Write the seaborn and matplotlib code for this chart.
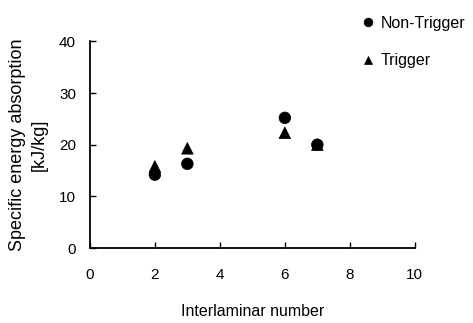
import pandas as pd
import matplotlib
matplotlib.use('Agg')
import matplotlib.pyplot as plt
import seaborn as sns

sns.set_style("ticks")
plt.rcParams['font.family'] = ['Liberation Sans', 'DejaVu Sans']
plt.rcParams['text.color'] = 'black'
plt.rcParams['axes.labelcolor'] = 'black'
plt.rcParams['xtick.color'] = 'black'
plt.rcParams['ytick.color'] = 'black'

interlaminar = [2, 3, 6, 7]
non_trigger = [14.2, 16.3, 25.2, 20.0]
trigger = [15.8, 19.3, 22.3, 20.0]

df = pd.DataFrame({
    'x': interlaminar * 2,
    'y': non_trigger + trigger,
    'type': ['Non-Trigger'] * len(interlaminar) + ['Trigger'] * len(interlaminar),
})

fig = plt.figure(figsize=(4.73, 3.23), dpi=100)
ax = fig.add_axes([0.190, 0.232, 0.687, 0.640])

sns.scatterplot(data=df, x='x', y='y', style='type', hue='type',
                markers={'Non-Trigger': 'o', 'Trigger': '^'},
                palette={'Non-Trigger': 'black', 'Trigger': 'black'},
                s=70, edgecolor='black', linewidth=0.5, ax=ax, legend=True)

ax.set_xlim(0, 10)
ax.set_ylim(0, 40)
ax.set_xticks([0, 2, 4, 6, 8, 10])
ax.set_yticks([0, 10, 20, 30, 40])
ax.tick_params(direction='in', length=4, width=1, labelsize=11, pad=14)
ax.tick_params(axis='y', pad=10)
for side in ['top', 'right']:
    ax.spines[side].set_visible(False)
for side in ['left', 'bottom']:
    ax.spines[side].set_linewidth(1.3)
    ax.spines[side].set_color('black')

ax.set_xlabel('Interlaminar number', fontsize=11.5, labelpad=16)
ax.set_ylabel('Specific energy absorption\n[kJ/kg]', fontsize=13, labelpad=8, linespacing=1.35)

handles, labels = ax.get_legend_handles_labels()
ax.legend(handles, labels, loc='upper left', bbox_to_anchor=(0.727, 1.0),
          bbox_transform=fig.transFigure, frameon=False, fontsize=11.5,
          labelspacing=1.4, handlelength=1.0, handletextpad=0.3,
          markerscale=0.75, borderpad=0.5)

fig.savefig('out.png', dpi=100)
